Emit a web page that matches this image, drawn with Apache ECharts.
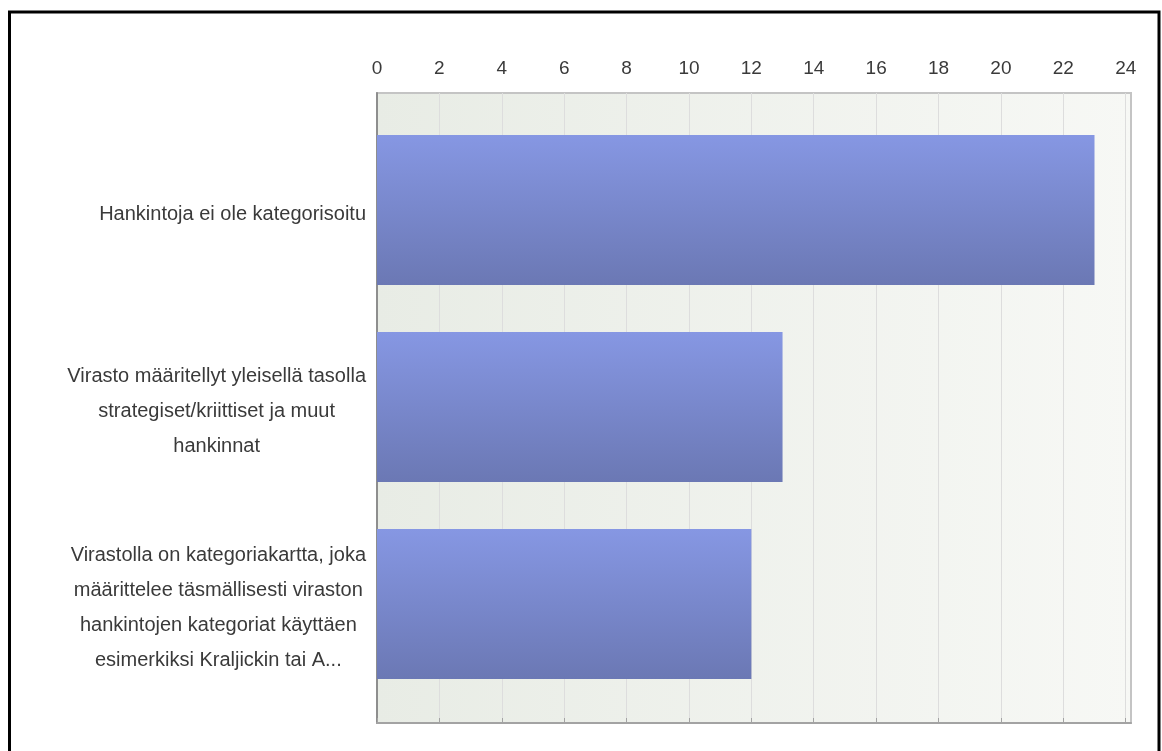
<!DOCTYPE html>
<html>
<head>
<meta charset="utf-8">
<script src="https://cdn.jsdelivr.net/npm/echarts@6/dist/echarts.min.js"></script>
<style>
html,body{margin:0;padding:0;background:#fff;overflow:hidden;}
#chart{width:1162px;height:751px;}
</style>
</head>
<body>
<div id="chart"></div>
<script>
const categories = [
  "Hankintoja ei ole kategorisoitu",
  "Virasto määritellyt yleisellä tasolla\nstrategiset/kriittiset ja muut\nhankinnat",
  "Virastolla on kategoriakartta, joka\nmäärittelee täsmällisesti viraston\nhankintojen kategoriat käyttäen\nesimerkiksi Kraljickin tai A..."
];
const values = [23, 13, 12];
const tickValues = [0, 2, 4, 6, 8, 10, 12, 14, 16, 18, 20, 22, 24];
const axisMax = 24.17;

const FONT = '"Liberation Sans", Arial, sans-serif';

const chart = echarts.init(document.getElementById('chart'), null, {renderer: 'canvas'});
chart.setOption({
  animation: false,
  backgroundColor: '#ffffff',
  grid: [{
    left: 377, top: 93, right: 31, bottom: 28,
    show: true,
    borderColor: '#c4c4c4',
    borderWidth: 2,
    backgroundColor: new echarts.graphic.LinearGradient(0, 0, 1, 0, [
      {offset: 0, color: '#e8ece5'},
      {offset: 1, color: '#f7f8f5'}
    ])
  }, {
    left: 377, top: 111.5, right: 31, bottom: 48.5,
    show: false
  }],
  xAxis: [{
    type: 'value',
    gridIndex: 0,
    position: 'top',
    min: 0,
    max: axisMax,
    interval: 2,
    axisLine: {show: true, lineStyle: {color: '#a3a3a3', width: 2}},
    axisTick: {show: true, length: 5, lineStyle: {color: '#a3a3a3', width: 1}, customValues: tickValues},
    axisLabel: {
      customValues: tickValues,
      color: '#3a3a3a',
      fontFamily: FONT,
      fontSize: 19,
      lineHeight: 19,
      margin: 15
    },
    splitLine: {show: true, lineStyle: {color: '#dddddd', width: 1}}
  }, {
    type: 'value',
    gridIndex: 1,
    min: 0,
    max: axisMax,
    show: false
  }],
  yAxis: [{
    type: 'value',
    gridIndex: 0,
    min: 0,
    max: 1,
    axisLine: {show: true, lineStyle: {color: '#8e8e8e', width: 2}},
    axisTick: {show: false},
    axisLabel: {show: false},
    splitLine: {show: false}
  }, {
    type: 'category',
    gridIndex: 1,
    inverse: true,
    data: categories,
    axisLine: {show: false},
    axisTick: {show: false},
    splitLine: {show: false},
    axisLabel: {
      margin: 11,
      color: '#3a3a3a',
      fontFamily: FONT,
      fontSize: 20,
      lineHeight: 35,
      padding: [8, 0, 0, 0],
      formatter: function (v) {
        return v.split('\n').map(function (l) { return '{c|' + l + '}'; }).join('\n');
      },
      rich: {
        c: {align: 'center', fontFamily: FONT, fontSize: 20, lineHeight: 35, color: '#3a3a3a'}
      }
    }
  }],
  series: [{
    type: 'bar',
    xAxisIndex: 1,
    yAxisIndex: 1,
    data: values,
    barWidth: 150,
    itemStyle: {
      color: new echarts.graphic.LinearGradient(0, 0, 0, 1, [
        {offset: 0, color: '#8697e3'},
        {offset: 1, color: '#6b78b4'}
      ])
    }
  }],
  graphic: [{
    type: 'rect',
    silent: true,
    z: 100,
    shape: {x: 9.5, y: 12, width: 1149.5, height: 780},
    style: {fill: 'none', stroke: '#000000', lineWidth: 3}
  }]
});
</script>
</body>
</html>
